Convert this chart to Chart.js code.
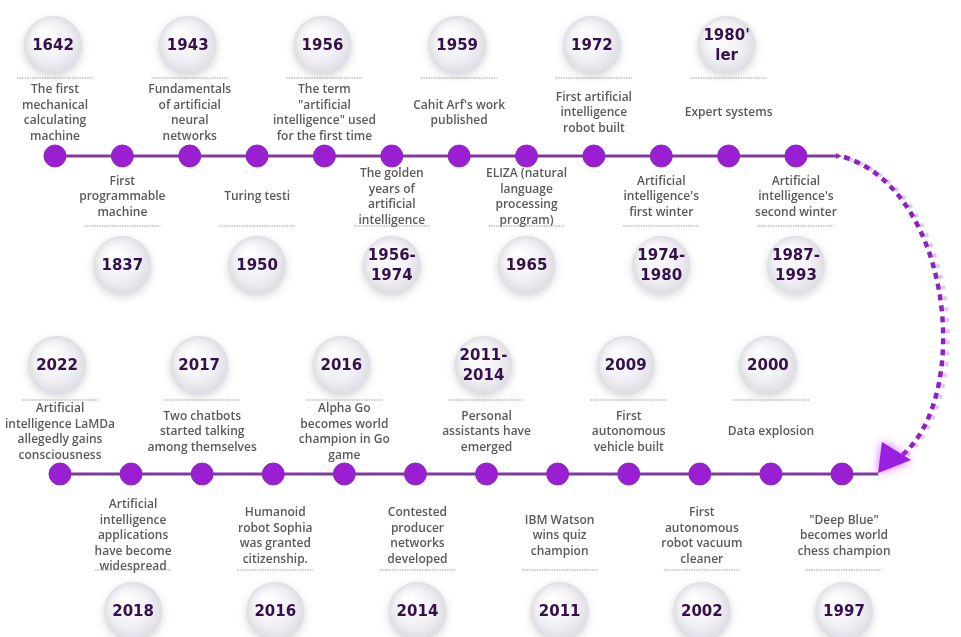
<!DOCTYPE html>
<html>
<head>
<meta charset="utf-8">
<script src="https://cdn.jsdelivr.net/npm/chart.js@4.4.1/dist/chart.umd.min.js"></script>
<style>
  html, body { margin: 0; padding: 0; background: #ffffff; }
  #wrap { width: 961px; height: 637px; position: relative; }
</style>
</head>
<body>
<div id="wrap"><canvas id="timeline"></canvas></div>
<script>
// upper row, left to right (chronological)
const topPeriods = ["1642", "1837", "1943", "1950", "1956", "1956-\n1974",
  "1959", "1965", "1972", "1974-\n1980", "1980'\nler", "1987-\n1993"];
const topEvents = [
  "The first\nmechanical\ncalculating\nmachine",
  "First\nprogrammable\nmachine",
  "Fundamentals\nof artificial\nneural\nnetworks",
  "Turing testi",
  "The term\n\"artificial\nintelligence\" used\nfor the first time",
  "The golden\nyears of\nartificial\nintelligence",
  "Cahit Arf's work\npublished",
  "ELIZA (natural\nlanguage\nprocessing\nprogram)",
  "First artificial\nintelligence\nrobot built",
  "Artificial\nintelligence's\nfirst winter",
  "Expert systems",
  "Artificial\nintelligence's\nsecond winter",
];

// lower row, right to left (chronological)
const bottomPeriods = ["1997", "2000", "2002", "2009", "2011", "2011-\n2014",
  "2014", "2016", "2016", "2017", "2018", "2022"];
const bottomEvents = [
  "\"Deep Blue\"\nbecomes world\nchess champion",
  "Data explosion",
  "First\nautonomous\nrobot vacuum\ncleaner",
  "First\nautonomous\nvehicle built",
  "IBM Watson\nwins quiz\nchampion",
  "Personal\nassistants have\nemerged",
  "Contested\nproducer\nnetworks\ndeveloped",
  "Alpha Go\nbecomes world\nchampion in Go\ngame",
  "Humanoid\nrobot Sophia\nwas granted\ncitizenship.",
  "Two chatbots\nstarted talking\namong themselves",
  "Artificial\nintelligence\napplications\nhave become\nwidespread",
  "Artificial\nintelligence LaMDa\nallegedly gains\nconsciousness",
];

// row level of each milestone (1 = upper track, 0 = lower track)
const topLevel = [1, 1, 1, 1, 1, 1, 1, 1, 1, 1, 1, 1];
const bottomLevel = [0, 0, 0, 0, 0, 0, 0, 0, 0, 0, 0, 0];

const PURPLE = "#9a1fd3";
const LINE = "#7f3a9e";
const YEAR_COLOR = "#35104a";
const TEXT_COLOR = "#5a5a5a";

function drawBadge(ctx, x, y, text) {
  const r = 29;
  ctx.save();
  ctx.shadowColor = "rgba(0, 0, 0, 0.16)";
  ctx.shadowBlur = 8;
  ctx.shadowOffsetY = 3;
  const g = ctx.createRadialGradient(x - 9, y - 11, 3, x, y, r);
  g.addColorStop(0, "#ffffff");
  g.addColorStop(0.6, "#f1f1f5");
  g.addColorStop(1, "#dddde4");
  ctx.fillStyle = g;
  ctx.beginPath();
  ctx.arc(x, y, r, 0, Math.PI * 2);
  ctx.fill();
  ctx.restore();

  ctx.save();
  ctx.fillStyle = YEAR_COLOR;
  ctx.font = "bold 15px 'DejaVu Sans'";
  ctx.textAlign = "center";
  ctx.textBaseline = "middle";
  const lines = text.split("\n");
  const lh = 20;
  lines.forEach((ln, k) => {
    ctx.fillText(ln, x, y + (k - (lines.length - 1) / 2) * lh + 1);
  });
  ctx.restore();
}

function drawSeparator(ctx, x, y) {
  ctx.save();
  ctx.strokeStyle = "#9c9c9c";
  ctx.lineWidth = 1.2;
  ctx.setLineDash([1.5, 1]);
  ctx.beginPath();
  ctx.moveTo(x - 38, y);
  ctx.lineTo(x + 38, y);
  ctx.stroke();
  ctx.restore();
}

function drawEvent(ctx, x, yCenter, text) {
  ctx.save();
  ctx.fillStyle = TEXT_COLOR;
  ctx.font = "600 12px 'Open Sans'";
  ctx.textAlign = "center";
  ctx.textBaseline = "middle";
  const lines = text.split("\n");
  const lh = 15.5;
  lines.forEach((ln, k) => {
    ctx.fillText(ln, x, yCenter + (k - (lines.length - 1) / 2) * lh);
  });
  ctx.restore();
}

// connectors: line ends, dashed bend and arrow head
const connectorPlugin = {
  id: "connector",
  beforeDatasetsDraw(chart) {
    const ctx = chart.ctx;
    const top = chart.getDatasetMeta(0).data;
    const bot = chart.getDatasetMeta(1).data;
    const tEnd = top[top.length - 1];
    const bEnd = bot[0];
    const tx = tEnd.x + 42, ty = tEnd.y;
    const bx = bEnd.x + 36, by = bEnd.y;

    ctx.save();
    ctx.strokeStyle = LINE;
    ctx.lineWidth = 3;
    ctx.beginPath();
    ctx.moveTo(tEnd.x, ty);
    ctx.lineTo(tx, ty);
    ctx.moveTo(bEnd.x, by);
    ctx.lineTo(bx, by);
    ctx.stroke();

    // small arrow tip on upper track
    ctx.fillStyle = LINE;
    ctx.beginPath();
    ctx.moveTo(tx + 4, ty);
    ctx.lineTo(tx - 2, ty - 3);
    ctx.lineTo(tx - 2, ty + 3);
    ctx.closePath();
    ctx.fill();

    // dashed bend, with faint echo
    const p0 = [tx + 6, ty + 1];
    const c1 = [tx + 115, ty + 35];
    const c2 = [tx + 135, by - 75];
    const p3 = [bx + 22, by - 17];
    ctx.lineCap = "butt";
    ctx.strokeStyle = "rgba(200, 150, 230, 0.55)";
    ctx.lineWidth = 4;
    ctx.setLineDash([4, 7]);
    ctx.beginPath();
    ctx.moveTo(p0[0] + 5, p0[1] + 2);
    ctx.bezierCurveTo(c1[0] + 5, c1[1] + 2, c2[0] + 5, c2[1], p3[0] + 4, p3[1]);
    ctx.stroke();
    ctx.strokeStyle = "#8a22c4";
    ctx.lineWidth = 4.5;
    ctx.setLineDash([6, 5]);
    ctx.beginPath();
    ctx.moveTo(p0[0], p0[1]);
    ctx.bezierCurveTo(c1[0], c1[1], c2[0], c2[1], p3[0], p3[1]);
    ctx.stroke();
    ctx.setLineDash([]);

    // arrow head with glow
    ctx.shadowColor = "rgba(190, 60, 255, 0.8)";
    ctx.shadowBlur = 10;
    ctx.fillStyle = "#9a1fe0";
    ctx.beginPath();
    ctx.moveTo(bx + 4, by - 32);
    ctx.lineTo(bx, by - 1);
    ctx.lineTo(bx + 33, by - 14);
    ctx.closePath();
    ctx.fill();
    ctx.restore();
  },
  afterDatasetsDraw(chart) {
    const ctx = chart.ctx;
    const top = chart.getDatasetMeta(0).data;
    const bot = chart.getDatasetMeta(1).data;

    top.forEach((pt, i) => {
      if (i % 2 === 0) {
        drawBadge(ctx, pt.x - 2, pt.y - 111, topPeriods[i]);
        drawSeparator(ctx, pt.x, pt.y - 78);
        drawEvent(ctx, pt.x, pt.y - 43, topEvents[i]);
      } else {
        drawEvent(ctx, pt.x, pt.y + 41, topEvents[i]);
        drawSeparator(ctx, pt.x, pt.y + 70);
        drawBadge(ctx, pt.x, pt.y + 109, topPeriods[i]);
      }
    });

    bot.forEach((pt, i) => {
      if (i % 2 === 1) {
        drawBadge(ctx, pt.x - 3, pt.y - 109, bottomPeriods[i]);
        drawSeparator(ctx, pt.x, pt.y - 74);
        drawEvent(ctx, pt.x, pt.y - 42, bottomEvents[i]);
      } else {
        drawEvent(ctx, pt.x + 2, pt.y + 62, bottomEvents[i]);
        drawSeparator(ctx, pt.x + 2, pt.y + 96);
        drawBadge(ctx, pt.x + 2, pt.y + 137, bottomPeriods[i]);
      }
    });
  },
};

function initTimeline() {
  const canvas = document.getElementById("timeline");
  return new Chart(canvas.getContext("2d"), {
    type: "scatter",
    data: {
      datasets: [
        {
          label: "upper",
          data: topPeriods.map((p, i) => ({ x: i, y: topLevel[i] })),
          xAxisID: "x",
          showLine: true,
          borderColor: LINE,
          borderWidth: 3,
          pointRadius: 11,
          pointBackgroundColor: PURPLE,
          pointBorderColor: "#8a2bb8",
          pointBorderWidth: 1,
        },
        {
          label: "lower",
          data: bottomPeriods.map((p, i) => ({ x: i, y: bottomLevel[i] })),
          xAxisID: "x2",
          showLine: true,
          borderColor: LINE,
          borderWidth: 3,
          pointRadius: 11,
          pointBackgroundColor: PURPLE,
          pointBorderColor: "#8a2bb8",
          pointBorderWidth: 1,
        },
      ],
    },
    options: {
      responsive: true,
      maintainAspectRatio: false,
      animation: false,
      layout: { padding: 0, autoPadding: false },
      plugins: {
        legend: { display: false },
        tooltip: { enabled: false },
      },
      scales: {
        x: { type: "linear", display: false, min: -0.8165, max: 13.45 },
        x2: { type: "linear", display: false, reverse: true, min: -1.674, max: 11.844 },
        y: { type: "linear", display: false, min: -0.5126, max: 1.4906 },
      },
    },
    plugins: [connectorPlugin],
  });
}

document.addEventListener("DOMContentLoaded", initTimeline);
</script>
</body>
</html>
